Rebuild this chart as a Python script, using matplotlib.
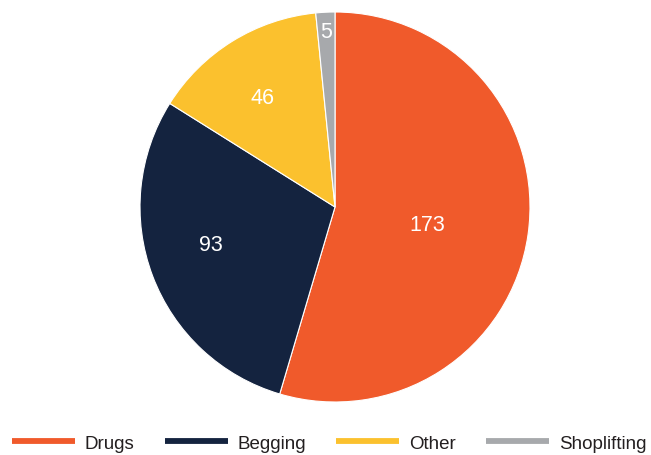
import numpy as np
import matplotlib
matplotlib.use("Agg")
import matplotlib.pyplot as plt
from matplotlib.lines import Line2D

plt.rcParams['font.family'] = ['Liberation Sans', 'DejaVu Sans']

categories = ['Drugs', 'Begging', 'Other', 'Shoplifting']
counts = [173, 93, 46, 5]
colors = ['#F05A2B', '#14233F', '#FBC12E', '#A7A9AC']

# label placement: radius fraction and angular nudge (degrees) from the wedge middle
label_r = [0.478, 0.66, 0.68, 0.914]
label_nudge = [-1.1, -4.9, 1.2, 0.0]

fig = plt.figure(figsize=(6.51, 4.56), dpi=100)
ax = fig.add_axes([140 / 651, 53 / 456, 390 / 651, 390 / 456])

wedges, _ = ax.pie(counts, colors=colors, startangle=90, counterclock=False,
                   radius=1.0, wedgeprops=dict(edgecolor='white', linewidth=0.8))
ax.set_xlim(-1, 1)
ax.set_ylim(-1, 1)
ax.set_aspect('equal')

for w, val, r, nd in zip(wedges, counts, label_r, label_nudge):
    mid = np.deg2rad((w.theta1 + w.theta2) / 2 + nd)
    ax.annotate(str(val), (r * np.cos(mid), r * np.sin(mid)),
                xytext=(0, -1.5), textcoords='offset points',
                color='white', fontsize=15.5, ha='center', va='center')

handles = [Line2D([0], [0], color=c, linewidth=4.2, solid_capstyle='butt')
           for c in colors]
fig.legend(handles, categories, loc='center', ncol=4, frameon=False,
           fontsize=13.5, handlelength=3.36, handletextpad=0.53, columnspacing=1.6,
           bbox_to_anchor=(329 / 651, 12 / 456), labelcolor='#231F20',
           borderpad=0, borderaxespad=0)

fig.savefig('out.png', dpi=100)
